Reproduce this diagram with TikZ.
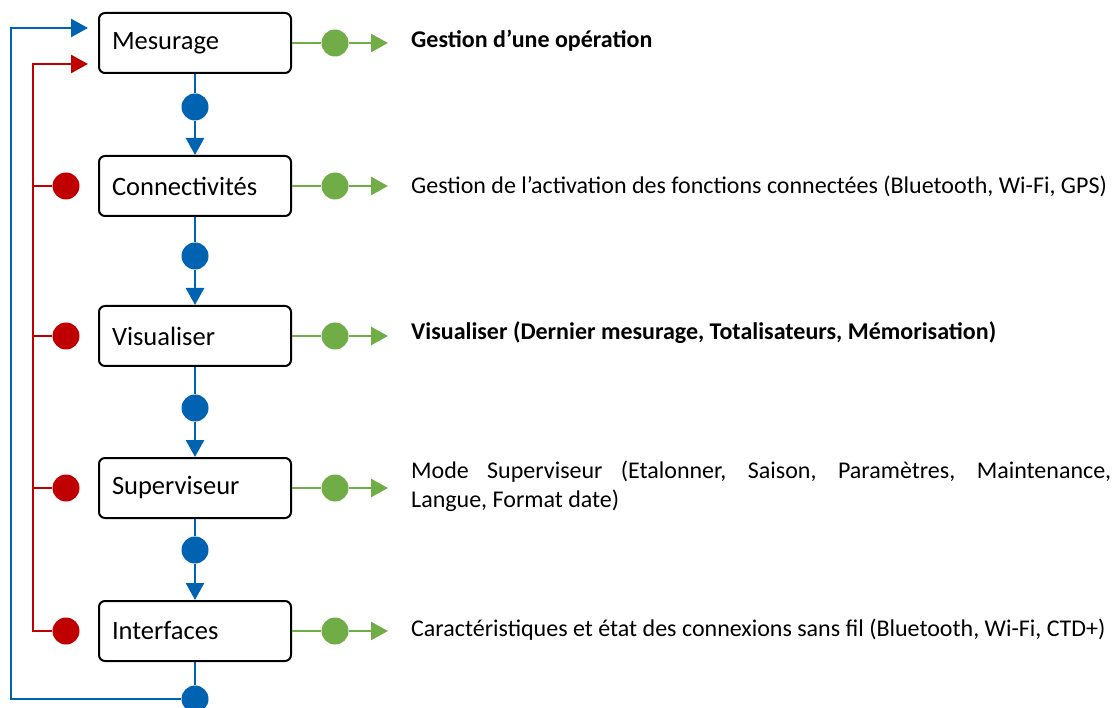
\documentclass[tikz,border=0pt]{standalone}
\usepackage{fontspec}
\setmainfont{Carlito}
\usetikzlibrary{arrows.meta}

\definecolor{flowblue}{RGB}{0,99,178}
\definecolor{flowred}{RGB}{192,0,0}
\definecolor{flowgreen}{RGB}{112,173,71}

\begin{document}
\begin{tikzpicture}[x=1pt, y=-1pt,
    menubox/.style={draw, line width=2pt, rounded corners=6pt, minimum height=60pt,
        text width=166pt, inner xsep=13pt, align=left, font=\fontsize{26.5}{31}\selectfont},
    infotext/.style={anchor=west, inner sep=0pt, font=\fontsize{24}{29}\selectfont},
    dot/.style={circle, inner sep=0pt, minimum size=27pt, fill=#1},
    bluelink/.style={flowblue, line width=2.6pt},
    redlink/.style={flowred, line width=2.6pt},
    greenlink/.style={flowgreen, line width=2.6pt},
    tip/.style={-{Triangle[length=17pt, width=18pt]}}]

    \useasboundingbox (0, 0) rectangle (1119, 708);

    % menu boxes
    \path node (mes) [menubox] at (195, 43) {Mesurage};
    \path node (con) [menubox] at (195, 186) {Connectivités};
    \path node (vis) [menubox] at (195, 336) {Visualiser};
    \path node (sup) [menubox] at (195, 488) {Superviseur};
    \path node (int) [menubox] at (195, 631) {Interfaces};

    % blue dots between boxes
    \path node (bmes) [dot=flowblue] at (195, 107) {};
    \path node (bcon) [dot=flowblue] at (195, 256) {};
    \path node (bvis) [dot=flowblue] at (195, 408) {};
    \path node (bsup) [dot=flowblue] at (195, 550) {};
    \path node (bint) [dot=flowblue] at (195, 699) {};

    % red dots on the left
    \path node (rcon) [dot=flowred] at (66, 186) {};
    \path node (rvis) [dot=flowred] at (66, 336) {};
    \path node (rsup) [dot=flowred] at (66, 488) {};
    \path node (rint) [dot=flowred] at (66, 631) {};

    % green dots on the right
    \path node (gmes) [dot=flowgreen] at (335, 43) {};
    \path node (gcon) [dot=flowgreen] at (335, 186) {};
    \path node (gvis) [dot=flowgreen] at (335, 336) {};
    \path node (gsup) [dot=flowgreen] at (335, 488) {};
    \path node (gint) [dot=flowgreen] at (335, 631) {};

    % texts
    \path node (tmes) [infotext, font=\fontsize{24}{29}\selectfont\bfseries] at (411, 41) {Gestion d’une opération};
    \path node (tcon) [infotext] at (411, 186) {Gestion de l’activation des fonctions connectées (Bluetooth, Wi-Fi, GPS)};
    \path node (tvis) [infotext, font=\fontsize{24}{29}\selectfont\bfseries] at (411, 333) {Visualiser (Dernier mesurage, Totalisateurs, Mémorisation)};
    \path node (tsup) [infotext, text width=700pt, align=justify] at (411, 486) {Mode Superviseur (Etalonner, Saison, Paramètres, Maintenance,\linebreak Langue, Format date)};
    \path node (tint) [infotext] at (411, 630) {Caractéristiques et état des connexions sans fil (Bluetooth, Wi-Fi, CTD+)};

    % arrow ends
    \coordinate (ames) at (388, 43);
    \coordinate (acon) at (388, 186);
    \coordinate (avis) at (388, 336);
    \coordinate (asup) at (388, 488);
    \coordinate (aint) at (388, 631);
    \coordinate (rbend) at (33, 64);
    \coordinate (rend) at (88, 64);
    \coordinate (bbend) at (11, 28);
    \coordinate (bend) at (88, 28);

    % blue flow
    \draw[bluelink, tip] (mes) -- (bmes) -- (con);
    \draw[bluelink, tip] (con) -- (bcon) -- (vis);
    \draw[bluelink, tip] (vis) -- (bvis) -- (sup);
    \draw[bluelink, tip] (sup) -- (bsup) -- (int);
    \draw[bluelink] (int) -- (bint);
    \draw[bluelink, tip] (bint) -| (bbend) -- (bend);

    % red return
    \draw[redlink, tip] (rint) -| (rbend) -- (rend);
    \draw[redlink] (rcon) -- (rcon -| rbend);
    \draw[redlink] (rvis) -- (rvis -| rbend);
    \draw[redlink] (rsup) -- (rsup -| rbend);

    % green outputs
    \draw[greenlink, tip] (mes) -- (gmes) -- (ames);
    \draw[greenlink, tip] (con) -- (gcon) -- (acon);
    \draw[greenlink, tip] (vis) -- (gvis) -- (avis);
    \draw[greenlink, tip] (sup) -- (gsup) -- (asup);
    \draw[greenlink, tip] (int) -- (gint) -- (aint);

\end{tikzpicture}
\end{document}
